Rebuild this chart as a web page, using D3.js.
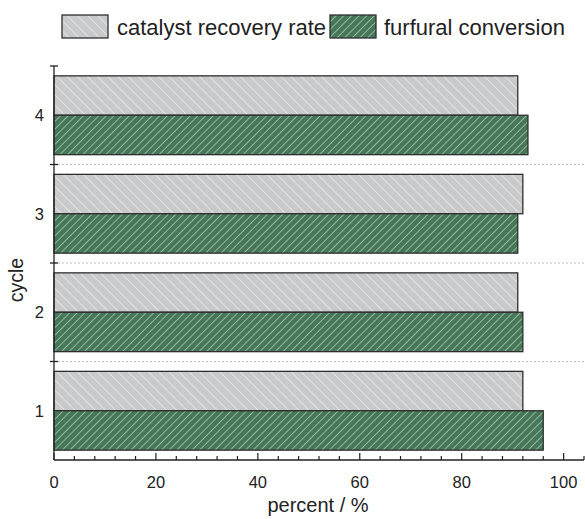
<!DOCTYPE html>
<html>
<head>
<meta charset="utf-8">
<script src="https://cdn.jsdelivr.net/npm/d3@7"></script>
<style>
  html, body { margin: 0; padding: 0; background: #fff; }
  svg { display: block; font-family: Arial, "Liberation Sans", Helvetica, sans-serif; }
</style>
</head>
<body>
<svg id="chart" width="585" height="519"></svg>
<script>
// Catalyst reuse cycles
const cycles = ["1", "2", "3", "4"];
const recoveryRate = [92, 91, 92, 91];
const furfuralConversion = [96, 92, 91, 93];
const seriesNames = ["catalyst recovery rate", "furfural conversion"];
const xTicks = [0, 20, 40, 60, 80, 100];

const svg = d3.select("#chart");
const margin = { left: 54, right: 1, top: 66, bottom: 59 };
const W = 585, H = 519;

const x = d3.scaleLinear().domain([0, 104]).range([margin.left, W - margin.right]);
const y = d3.scaleBand().domain(cycles).range([H - margin.bottom, margin.top]).paddingInner(0.2).paddingOuter(0.1);
// Within each band, recovery rate sits on top, conversion below
const sub = d3.scaleBand().domain(seriesNames).range([0, y.bandwidth()]);

// Hatch fills
const defs = svg.append("defs");
function hatch(id, bg, line, spacing, angle) {
  const p = defs.append("pattern")
    .attr("id", id).attr("patternUnits", "userSpaceOnUse")
    .attr("width", spacing).attr("height", spacing)
    .attr("patternTransform", `rotate(${angle})`);
  p.append("rect").attr("width", spacing).attr("height", spacing).attr("fill", bg);
  p.append("line").attr("x1", 0).attr("y1", 0).attr("x2", 0).attr("y2", spacing)
    .attr("stroke", line).attr("stroke-width", 1.2);
}
hatch("hatchGray", "#c8c9cb", "#f4f4f4", 7.2, -45);
hatch("hatchGreen", "#477759", "#c9dccd", 5.4, 45);
const fills = ["url(#hatchGray)", "url(#hatchGreen)"];

// Dotted separators between cycles
const bounds = d3.range(1, cycles.length).map(i => y(cycles[i]) + y.bandwidth() + y.step() * y.paddingInner() / 2);
svg.append("g").selectAll("line").data(bounds).join("line")
  .attr("x1", x(0)).attr("x2", W).attr("y1", d => d).attr("y2", d => d)
  .attr("stroke", "#bdbdbd").attr("stroke-width", 1).attr("stroke-dasharray", "2,2");

// Bars
const seriesData = [recoveryRate, furfuralConversion];
seriesData.forEach((vals, si) => {
  svg.append("g").selectAll("rect").data(cycles).join("rect")
    .attr("x", x(0))
    .attr("y", c => y(c) + sub(seriesNames[si]))
    .attr("width", (c, i) => x(vals[i]) - x(0))
    .attr("height", sub.bandwidth())
    .attr("fill", fills[si])
    .attr("stroke", "#2e2e2e").attr("stroke-width", 1.3);
});

// X axis
const xAxisG = svg.append("g").attr("transform", `translate(0,${H - margin.bottom})`);
xAxisG.append("line").attr("x1", x(0)).attr("x2", x(104)).attr("stroke", "#222").attr("stroke-width", 1.3);
const minor = d3.range(0, 105, 4).filter(v => v % 20 !== 0);
xAxisG.selectAll(".minor").data(minor).join("line").attr("class", "minor")
  .attr("x1", d => x(d)).attr("x2", d => x(d)).attr("y1", 0).attr("y2", -4)
  .attr("stroke", "#222").attr("stroke-width", 1.2);
xAxisG.selectAll(".major").data(xTicks).join("line").attr("class", "major")
  .attr("x1", d => x(d)).attr("x2", d => x(d)).attr("y1", 0).attr("y2", -7)
  .attr("stroke", "#222").attr("stroke-width", 1.2);
xAxisG.selectAll("text").data(xTicks).join("text")
  .attr("x", d => x(d)).attr("y", 28).attr("text-anchor", "middle")
  .attr("font-size", "16.5px").attr("fill", "#222").text(d => d);

// Y axis
const yAxisG = svg.append("g");
yAxisG.append("line").attr("x1", x(0)).attr("x2", x(0))
  .attr("y1", margin.top).attr("y2", H - margin.bottom).attr("stroke", "#222").attr("stroke-width", 1.3);
const yMajor = [margin.top, ...bounds];
yAxisG.selectAll(".tick").data(yMajor).join("line")
  .attr("x1", x(0) - 4).attr("x2", x(0) + 4).attr("y1", d => d).attr("y2", d => d)
  .attr("stroke", "#222").attr("stroke-width", 1.3);
yAxisG.selectAll("text").data(cycles).join("text")
  .attr("x", 44).attr("y", c => y(c) + y.bandwidth() / 2 + 6)
  .attr("text-anchor", "end").attr("font-size", "16.5px").attr("fill", "#222").text(c => c);

// Axis titles
svg.append("text").attr("x", 318).attr("y", 512).attr("text-anchor", "middle")
  .attr("font-size", "20px").attr("fill", "#222").text("percent / %");
svg.append("text").attr("transform", `translate(23,280) rotate(-90)`)
  .attr("text-anchor", "middle").attr("font-size", "19.5px").attr("fill", "#222").text("cycle");

// Legend
const legend = svg.append("g");
const legendItems = [{ x: 62, tx: 117 }, { x: 330, tx: 384 }];
legendItems.forEach((it, i) => {
  legend.append("rect").attr("x", it.x).attr("y", 15).attr("width", 46).attr("height", 23)
    .attr("fill", fills[i]).attr("stroke", "#2e2e2e").attr("stroke-width", 1.3);
  legend.append("text").attr("x", it.tx).attr("y", 35).attr("font-size", "22px").attr("fill", "#222")
    .text(seriesNames[i]);
});
</script>
</body>
</html>
